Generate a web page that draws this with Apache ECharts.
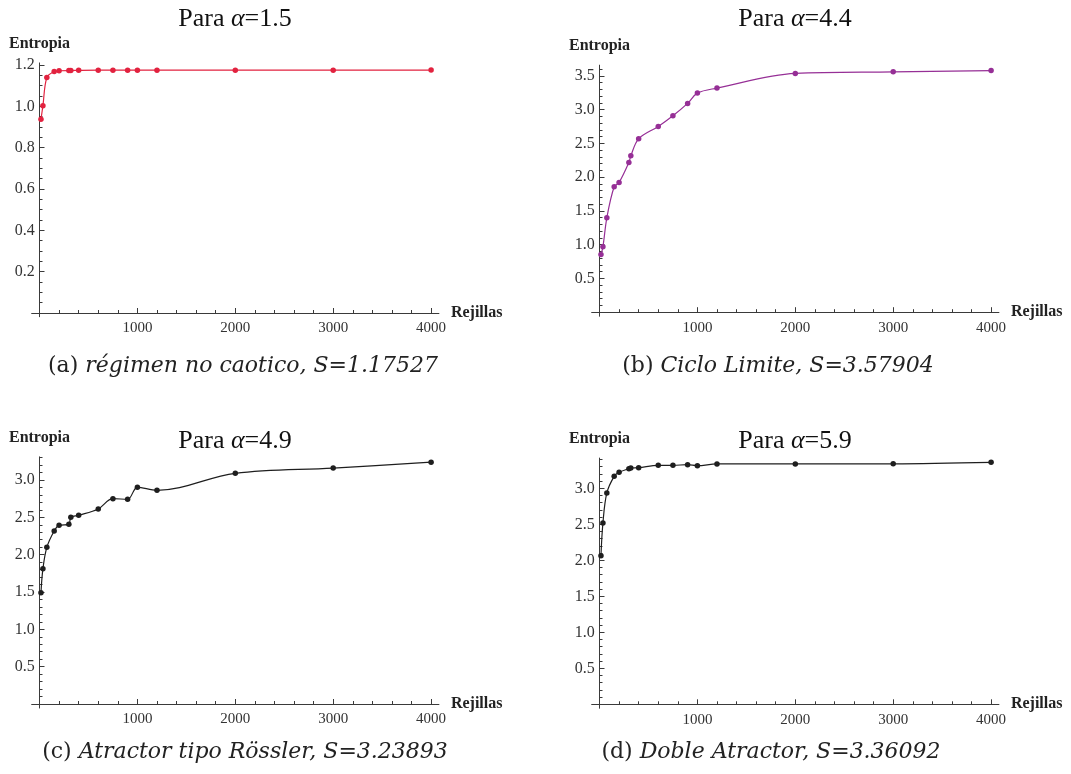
<!DOCTYPE html>
<html><head><meta charset="utf-8">
<script src="https://cdn.jsdelivr.net/npm/echarts@6/dist/echarts.min.js"></script>
<style>html,body{margin:0;padding:0;background:#fff}#c{width:1071px;height:774px}</style>
</head><body><div id="c"></div>
<script>
// ---- data ----
const rejillas = [15, 35, 75, 150, 200, 300, 320, 400, 600, 750, 900, 1000, 1200, 2000, 3000, 4000];
const entropiaA = [0.937, 1.003, 1.139, 1.168, 1.172, 1.173, 1.173, 1.174, 1.175, 1.175, 1.175, 1.175, 1.175, 1.175, 1.175, 1.17527];
const entropiaB = [0.856, 0.969, 1.399, 1.858, 1.922, 2.219, 2.317, 2.569, 2.752, 2.910, 3.093, 3.246, 3.320, 3.538, 3.561, 3.57904];
const entropiaC = [1.491, 1.812, 2.098, 2.317, 2.393, 2.406, 2.500, 2.527, 2.612, 2.750, 2.741, 2.902, 2.862, 3.089, 3.160, 3.23893];
const entropiaD = [2.064, 2.518, 2.935, 3.166, 3.222, 3.273, 3.282, 3.287, 3.319, 3.319, 3.328, 3.314, 3.338, 3.338, 3.340, 3.36092];
const alphas = ['1.5', '4.4', '4.9', '5.9'];
const captionTags = ['(a)', '(b)', '(c)', '(d)'];
const captionTexts = ['régimen no caotico, S=1.17527', 'Ciclo Limite, S=3.57904', 'Atractor tipo Rössler, S=3.23893', 'Doble Atractor, S=3.36092'];
const xMajorTicks = [0, 1000, 2000, 3000, 4000];
const xLabelTicks = [1000, 2000, 3000, 4000];
const xMinorTicks = [200, 400, 600, 800, 1200, 1400, 1600, 1800, 2200, 2400, 2600, 2800, 3200, 3400, 3600, 3800];
const yLabelTicksA = [0.2, 0.4, 0.6, 0.8, 1.0, 1.2];
const yLabelTicksBCD = [0.5, 1.0, 1.5, 2.0, 2.5, 3.0, 3.5];

// ---- layout ----
const XMIN = -80, XMAX = 4080, XPPU = 0.0979;
const FONT = '"Liberation Serif", "Times New Roman", serif';
const CAPFONT = '"DejaVu Serif", serif';
const panels = [
  {data: entropiaA, color: '#e2223f', x0: 39.5, y0: 313, ppu: 206.7, ymax: 1.21, ymin: -0.018, labels: yLabelTicksA, minorStep: 0.05, tx: 235, ty: 19, cx: 243, cy: 366},
  {data: entropiaB, color: '#962f96', x0: 599.5, y0: 312.2, ppu: 67.5, ymax: 3.66, ymin: -0.06, labels: yLabelTicksBCD, minorStep: 0.1, tx: 795, ty: 19, cx: 778, cy: 366},
  {data: entropiaC, color: '#1e1e1e', x0: 39.5, y0: 704, ppu: 74.67, ymax: 3.31, ymin: -0.054, labels: yLabelTicksBCD.slice(0, 6), minorStep: 0.1, tx: 235, ty: 441, cx: 245, cy: 752},
  {data: entropiaD, color: '#1e1e1e', x0: 599.5, y0: 704.3, ppu: 72, ymax: 3.42, ymin: -0.055, labels: yLabelTicksBCD.slice(0, 6), minorStep: 0.1, tx: 795, ty: 441, cx: 771, cy: 752}
];

function minorTicks(step, max, majors) {
  const out = [];
  for (let i = 1; i * step <= max + 1e-9; i++) {
    const v = Math.round(i * step * 1000) / 1000;
    if (!majors.some(m => Math.abs(m - v) < 1e-6)) out.push(v);
  }
  return out;
}

const axisColor = '#3a3a3a';
const grids = [], xAxes = [], yAxes = [], series = [], graphics = [];
panels.forEach((p, k) => {
  grids.push({
    left: p.x0 + XMIN * XPPU,
    width: (XMAX - XMIN) * XPPU,
    top: p.y0 - p.ymax * p.ppu,
    height: (p.ymax - p.ymin) * p.ppu,
    containLabel: false
  });
  const yMajors = [0].concat(p.labels);
  xAxes.push({
    type: 'value', gridIndex: k, min: XMIN, max: XMAX, position: 'bottom',
    axisLine: {show: true, onZero: true, lineStyle: {color: axisColor, width: 1}},
    axisTick: {show: true, inside: true, length: 5, customValues: xMajorTicks, lineStyle: {color: axisColor}},
    axisLabel: {show: true, customValues: xLabelTicks, margin: 4, fontFamily: FONT, fontSize: 15, color: '#333',
      formatter: v => String(Math.round(v))},
    splitLine: {show: false},
    name: 'Rejillas', nameLocation: 'end', nameGap: 12,
    nameTextStyle: {fontFamily: FONT, fontWeight: 'bold', fontSize: 16, color: '#222'}
  });
  xAxes.push({
    type: 'value', gridIndex: k, min: XMIN, max: XMAX, position: 'bottom',
    axisLine: {show: false, onZero: true},
    axisTick: {show: true, inside: true, length: 3, customValues: xMinorTicks, lineStyle: {color: axisColor}},
    axisLabel: {show: false},
    splitLine: {show: false}
  });
  yAxes.push({
    type: 'value', gridIndex: k, min: p.ymin, max: p.ymax, position: 'left',
    axisLine: {show: true, onZero: true, lineStyle: {color: axisColor, width: 1}},
    axisTick: {show: true, inside: true, length: 5, customValues: yMajors, lineStyle: {color: axisColor}},
    axisLabel: {show: true, customValues: p.labels, margin: -3, fontFamily: FONT, fontSize: 16, color: '#333',
      formatter: v => v.toFixed(1)},
    splitLine: {show: false},
    name: 'Entropia', nameLocation: 'end', nameGap: 11,
    nameTextStyle: {fontFamily: FONT, fontWeight: 'bold', fontSize: 16, color: '#222'}
  });
  yAxes.push({
    type: 'value', gridIndex: k, min: p.ymin, max: p.ymax, position: 'left',
    axisLine: {show: false, onZero: true},
    axisTick: {show: true, inside: true, length: 3, customValues: minorTicks(p.minorStep, p.ymax, yMajors), lineStyle: {color: axisColor}},
    axisLabel: {show: false},
    splitLine: {show: false}
  });
  series.push({
    type: 'line', xAxisIndex: 2 * k, yAxisIndex: 2 * k,
    data: rejillas.map((x, i) => [x, p.data[i]]),
    smooth: 0.35,
    symbol: 'circle', symbolSize: 5.5,
    lineStyle: {color: p.color, width: 1.2},
    itemStyle: {color: p.color},
    animation: false
  });
  graphics.push({
    type: 'text', x: p.tx, y: p.ty,
    style: {
      text: '{n|Para }{a|α}{n|=' + alphas[k] + '}',
      textAlign: 'center', textVerticalAlign: 'middle',
      rich: {
        n: {fontFamily: FONT, fontSize: 26, fill: '#111'},
        a: {fontFamily: FONT, fontSize: 26, fontStyle: 'italic', fill: '#111'}
      }
    }
  });
  graphics.push({
    type: 'text', x: p.cx, y: p.cy,
    style: {
      text: '{n|' + captionTags[k] + ' }{i|' + captionTexts[k] + '}',
      textAlign: 'center', textVerticalAlign: 'middle',
      rich: {
        n: {fontFamily: CAPFONT, fontSize: 22, fill: '#222'},
        i: {fontFamily: CAPFONT, fontSize: 22, fontStyle: 'italic', fill: '#222'}
      }
    }
  });
});

const chart = echarts.init(document.getElementById('c'), null, {renderer: 'canvas'});
chart.setOption({
  animation: false,
  backgroundColor: '#fff',
  grid: grids,
  xAxis: xAxes,
  yAxis: yAxes,
  series: series,
  graphic: graphics
});
</script>
</body></html>
